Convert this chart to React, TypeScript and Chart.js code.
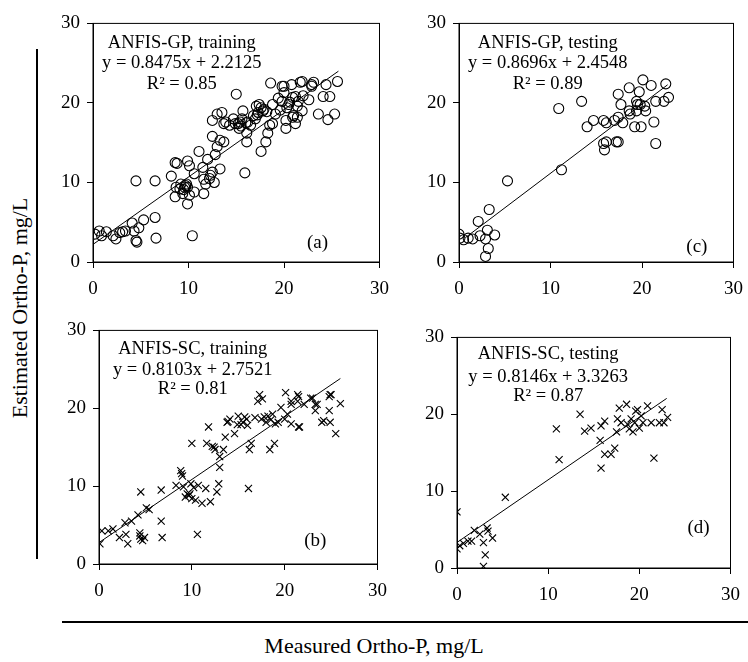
import React, { useEffect, useRef } from "react";
import { Chart, registerables } from "chart.js";

Chart.register(...registerables);

// ---------- data ----------
const gpTrainX = [0.2, 0.65, 0.9, 1.4, 2.1, 2.4, 2.8, 3.1, 3.4, 4.1, 4.3, 4.5, 4.6, 4.8, 5.3, 6.5, 6.6, 10.4, 4.5, 6.5,
  8.2, 8.6, 8.8, 8.6, 8.7, 9.1, 9.2, 9.4, 9.6, 9.8, 9.9, 9.9, 10.1, 9.9, 10.1, 10.6, 10.6, 11.1, 11.5, 11.6, 11.6, 11.8, 12.0, 12.3, 12.5, 12.7,
  12.5, 12.5, 12.8, 13.0, 13.3, 13.3, 13.7, 13.0, 13.5, 13.7, 13.9, 14.7, 15.0, 15.2, 15.4, 15.6, 15.7, 15.9, 16.1, 16.1, 16.2, 16.8, 17.1, 17.3,
  17.4, 17.6, 17.8, 18.1, 18.3, 18.5, 18.6, 18.8, 18.8, 19.1, 19.8, 20.0, 20.0, 20.2, 20.2, 20.3, 20.5, 20.9, 20.9, 21.2, 21.4, 21.5, 21.9, 22.0,
  22.6, 22.9, 23.1, 19.8, 20.8, 21.2, 21.7, 21.0, 21.4, 21.9, 22.9, 24.4, 25.6, 24.1, 24.8, 23.6, 24.6, 25.3, 16.5, 15.3, 17.0,
  14.9, 15.5, 16.0, 17.6, 17.9, 18.2, 19.4, 19.6, 20.6, 9.5, 9.7, 12.2, 14.3, 17.2];
const gpTrainY = [3.5, 3.9, 3.3, 3.8, 3.3, 2.9, 3.7, 3.8, 3.9, 4.9, 3.9, 2.7, 2.5, 4.3, 5.3, 5.6, 3.0, 3.3, 10.2, 10.2,
  10.8, 12.5, 12.4, 8.2, 9.4, 9.2, 9.8, 8.6, 9.4, 9.8, 9.4, 12.7, 12.1, 7.3, 8.4, 11.1, 8.8, 13.9, 11.9, 10.4, 8.6, 9.8, 12.9, 10.9, 11.3, 10.0,
  15.8, 17.8, 13.5, 14.5, 11.7, 15.3, 15.1, 18.6, 18.8, 17.4, 17.6, 18.0, 21.1, 17.4, 17.6, 18.0, 19.0, 11.2, 15.1, 16.2, 17.6, 18.4, 19.6, 18.8,
  19.8, 13.9, 19.0, 15.1, 16.2, 17.2, 22.5, 19.8, 17.4, 18.6, 20.2, 21.3, 22.1, 16.8, 17.8, 19.4, 19.8, 20.7, 18.2, 17.4, 19.6, 20.2, 22.7, 20.9,
  20.4, 22.1, 22.6, 22.1, 22.3, 20.8, 22.6, 18.4, 18.2, 19.0, 22.3, 22.3, 22.7, 20.8, 20.8, 18.6, 17.9, 18.6, 17.2, 16.8, 18.0,
  17.4, 17.1, 17.5, 19.4, 19.2, 18.9, 20.6, 19.1, 20.1, 9.1, 9.6, 10.5, 17.2, 18.5];

const gpTestX = [0.0, 0.1, 0.5, 1.0, 1.5, 2.1, 2.3, 2.9, 2.9, 3.2, 3.1, 3.3, 3.9, 5.3, 10.9, 11.2, 13.4, 14.0, 14.7, 15.8, 15.8, 15.9,
  16.1, 16.1, 17.0, 17.2, 17.4, 17.4, 17.4, 17.7, 17.9, 18.6, 18.6, 18.7, 19.2, 19.4, 19.4, 19.5, 19.7, 19.8, 19.9, 20.1, 20.3, 20.4, 21.0,
  21.3, 21.5, 21.5, 22.4, 22.6, 22.9];
const gpTestY = [3.5, 3.0, 2.8, 3.0, 2.9, 5.1, 3.3, 2.9, 0.7, 1.7, 4.0, 6.6, 3.4, 10.2, 19.3, 11.6, 20.2, 17.0, 17.8, 17.8, 14.9, 14.1,
  15.1, 17.5, 17.8, 15.1, 15.1, 18.2, 21.1, 19.8, 17.5, 21.9, 19.0, 18.6, 17.0, 20.2, 19.0, 19.8, 21.4, 19.8, 17.0, 22.9, 19.6, 19.0, 22.2,
  17.6, 14.9, 20.2, 20.2, 22.4, 20.7];

const scTrainX = [0.1, 0.3, 1.0, 1.5, 2.2, 2.8, 2.9, 3.1, 3.5, 4.2, 4.4, 4.5, 4.4, 4.5, 4.7, 4.9, 5.1, 5.4, 6.7, 6.7, 6.8,
  8.3, 8.8, 9.0, 9.1, 9.5, 9.7, 9.9, 10.0, 10.0, 10.4, 10.6, 10.7, 11.1, 11.5, 11.6, 11.8, 12.0, 12.2, 12.5, 12.7, 12.9, 13.0, 13.0, 13.4,
  13.6, 13.8, 14.1, 14.6, 15.0, 15.5, 15.9, 16.1, 16.2, 16.4, 16.8, 17.1, 17.3, 17.5, 18.0, 18.4, 18.9, 18.7, 19.3, 19.6, 20.1, 20.3, 20.7,
  21.4, 21.6, 22.1, 22.8, 23.5, 24.2, 24.9, 25.5, 20.0, 20.7, 21.4, 21.5, 20.7, 21.5, 23.0, 23.3, 23.3, 24.0, 24.8, 24.8, 24.9, 25.0, 26.0,
  9.3, 9.8, 15.3, 17.6, 18.2, 15.7, 16.0, 17.8, 18.5, 19.0, 14.9, 13.9, 12.4, 8.9, 10.2];
const scTrainY = [2.6, 4.25, 4.25, 4.5, 3.4, 5.3, 3.8, 2.6, 5.5, 6.3, 4.0, 9.25, 3.6, 3.2, 3.0, 3.4, 7.2, 7.0, 9.5, 5.5, 3.4,
  10.1, 12.0, 11.3, 9.9, 9.0, 8.8, 10.3, 8.4, 15.5, 8.2, 3.8, 10.1, 7.8, 9.7, 15.5, 17.6, 8.0, 15.1, 14.7, 9.25, 10.3, 12.4, 13.8, 14.7,
  16.3, 18.2, 18.6, 16.75, 19.0, 18.2, 18.6, 9.7, 14.7, 15.5, 18.8, 20.9, 21.75, 18.6, 18.2, 14.7, 15.5, 19.25, 18.2, 20.1, 22.0, 19.25, 20.9,
  21.75, 17.6, 20.5, 21.3, 20.5, 18.4, 21.75, 16.75, 18.6, 20.5, 20.9, 21.5, 18.0, 17.6, 21.3, 20.5, 19.7, 18.2, 21.5, 19.7, 18.2, 21.75, 20.6,
  8.6, 9.0, 17.9, 21.2, 19.0, 18.9, 17.8, 18.9, 18.5, 18.0, 17.9, 18.3, 15.0, 11.6, 9.8];

const scTestX = [0.0, 0.0, 0.3, 0.7, 1.2, 1.6, 1.9, 2.5, 2.9, 2.9, 3.1, 3.3, 3.4, 3.9, 5.3, 10.9, 11.2, 13.5, 14.0, 14.7, 15.7, 15.8,
  15.8, 16.2, 16.2, 16.9, 17.3, 17.5, 17.6, 17.8, 18.0, 18.6, 18.7, 18.9, 19.1, 19.3, 19.5, 19.6, 19.8, 20.0, 20.2, 20.4, 20.9, 21.3, 21.6,
  22.2, 22.5, 22.7, 23.1];
const scTestY = [7.3, 2.5, 2.9, 3.2, 3.5, 3.5, 4.9, 4.4, 3.3, 0.2, 1.7, 5.2, 4.8, 3.9, 9.2, 18.1, 14.1, 20.0, 17.8, 18.2, 16.6, 13.0,
  18.5, 19.1, 14.8, 14.8, 15.6, 17.7, 19.4, 20.8, 18.9, 21.3, 18.7, 18.1, 19.4, 17.7, 18.9, 20.4, 20.6, 18.2, 19.8, 18.9, 21.1, 18.9, 14.3,
  18.9, 20.6, 18.9, 19.6];

// regression lines: [slope, intercept, xStart, xEnd]
const gpTrainFit = [0.8475, 2.2125, 0, 25.7];
const gpTestFit = [0.8696, 2.4548, 0.7, 22.8];
const scTrainFit = [0.8103, 2.7521, 0, 26.0];
const scTestFit = [0.8146, 3.3263, 0, 23.0];

const panelTitles = ["ANFIS-GP, training", "ANFIS-GP, testing", "ANFIS-SC, training", "ANFIS-SC, testing"];
const panelEquations = ["y = 0.8475x + 2.2125", "y = 0.8696x + 2.4548", "y = 0.8103x + 2.7521", "y = 0.8146x + 3.3263"];
const panelR2 = ["R² = 0.85", "R² = 0.89", "R² = 0.81", "R² = 0.87"];
const panelTags = ["(a)", "(c)", "(b)", "(d)"];
const axisTicks = [0, 10, 20, 30];
const yTitle = "Estimated Ortho-P, mg/L";
const xTitle = "Measured Ortho-P, mg/L";

const FONT = "'Liberation Serif', 'Times New Roman', serif";

type Panel = {
  xs: number[]; ys: number[]; fit: number[]; style: string; idx: number;
  left: number; top: number; w: number; h: number;
  textX: number; tagX: number; tagY: number; textY: number[];
};

const panels: Panel[] = [
  { xs: gpTrainX, ys: gpTrainY, fit: gpTrainFit, style: "circle", idx: 0, left: 93, top: 17, w: 290, h: 245,
    textX: 9.3, textY: [27.5, 25.0, 22.4], tagX: 23.5, tagY: 2.4 },
  { xs: gpTestX, ys: gpTestY, fit: gpTestFit, style: "circle", idx: 1, left: 459, top: 17, w: 278, h: 245,
    textX: 9.7, textY: [27.5, 25.0, 22.4], tagX: 26.0, tagY: 1.9 },
  { xs: scTrainX, ys: scTrainY, fit: scTrainFit, style: "crossRot", idx: 2, left: 99, top: 324, w: 282, h: 240,
    textX: 10.1, textY: [27.6, 24.9, 22.4], tagX: 23.3, tagY: 3.0 },
  { xs: scTestX, ys: scTestY, fit: scTestFit, style: "crossRot", idx: 3, left: 457, top: 331, w: 277, h: 237,
    textX: 10.0, textY: [27.8, 24.8, 22.3], tagX: 26.5, tagY: 5.2 },
];

const YW = 45, XH = 40, PT = 12, PR = 16;

function PanelChart({ p }: { p: Panel }) {
  const ref = useRef<HTMLCanvasElement>(null);
  useEffect(() => {
    const cv = ref.current!;
    const points = p.xs.map((x, i) => ({ x, y: p.ys[i] }));
    const [m, b, x0, x1] = p.fit;
    const line = [{ x: x0, y: m * x0 + b }, { x: x1, y: m * x1 + b }];
    const framePlugin = {
      id: "frame",
      afterDatasetsDraw(chart: any) {
        const { ctx, chartArea: a, scales } = chart;
        ctx.save();
        ctx.strokeStyle = "#000";
        ctx.lineWidth = 1;
        ctx.strokeRect(a.left, a.top, a.right - a.left, a.bottom - a.top);
        ctx.fillStyle = "#000";
        ctx.font = `18.5px ${FONT}`;
        ctx.textAlign = "center";
        ctx.textBaseline = "middle";
        const tx = scales.x.getPixelForValue(p.textX);
        const lines = [panelTitles[p.idx], panelEquations[p.idx], panelR2[p.idx]];
        lines.forEach((t, i) => ctx.fillText(t, tx, scales.y.getPixelForValue(p.textY[i])));
        ctx.font = `19px ${FONT}`;
        ctx.fillText(panelTags[p.idx], scales.x.getPixelForValue(p.tagX), scales.y.getPixelForValue(p.tagY));
        ctx.restore();
      },
    };
    const axis = (isX: boolean) => ({
      type: "linear" as const,
      min: axisTicks[0],
      max: axisTicks[axisTicks.length - 1],
      afterBuildTicks: (s: any) => { s.ticks = axisTicks.map((v) => ({ value: v })); },
      afterFit: (s: any) => { if (isX) s.height = XH; else s.width = YW; },
      ticks: { color: "#000", font: { family: FONT, size: 19 }, padding: isX ? 10 : 7, maxRotation: 0 },
      grid: { drawOnChartArea: false, drawTicks: true, tickLength: 6, color: "#000", lineWidth: 1 },
      border: { display: true, color: "#000", width: 1 },
    });
    const chart = new Chart(cv, {
      type: "scatter",
      data: {
        datasets: [
          {
            data: points,
            pointStyle: p.style as any,
            pointRadius: 5,
            pointBorderColor: "#000",
            pointBackgroundColor: "rgba(0,0,0,0)",
            pointBorderWidth: 1.1,
          },
          {
            type: "line" as any,
            data: line,
            borderColor: "#000",
            borderWidth: 1,
            pointRadius: 0,
            showLine: true,
            fill: false,
          } as any,
        ],
      },
      options: {
        animation: false,
        responsive: false,
        devicePixelRatio: 1,
        layout: { padding: { top: PT, right: PR, left: 0, bottom: 0 } },
        plugins: { legend: { display: false }, tooltip: { enabled: false } },
        scales: { x: axis(true), y: axis(false) },
      },
      plugins: [framePlugin],
    });
    return () => chart.destroy();
  }, [p]);
  const W = p.w + YW + PR, H = p.h + PT + XH;
  return (
    <canvas
      ref={ref}
      width={W}
      height={H}
      style={{ position: "absolute", left: p.left - YW, top: p.top - PT, width: W, height: H }}
    />
  );
}

export default function App() {
  return (
    <div style={{ position: "absolute", left: 0, top: 0, width: 748, height: 662, background: "#fff", overflow: "hidden", fontFamily: FONT }}>
      {panels.map((p) => <PanelChart key={p.idx} p={p} />)}
      <div style={{ position: "absolute", left: 36, top: 49, width: 1.5, height: 510, background: "#000" }} />
      <div style={{ position: "absolute", left: 20, top: 308, transform: "translate(-50%, -50%) rotate(-90deg)", whiteSpace: "nowrap", fontSize: 22, color: "#000" }}>
        {yTitle}
      </div>
      <div style={{ position: "absolute", left: 62, top: 621, width: 686, height: 1.5, background: "#000" }} />
      <div style={{ position: "absolute", left: 374, top: 646, transform: "translate(-50%, -50%)", whiteSpace: "nowrap", fontSize: 22, color: "#000" }}>
        {xTitle}
      </div>
    </div>
  );
}
